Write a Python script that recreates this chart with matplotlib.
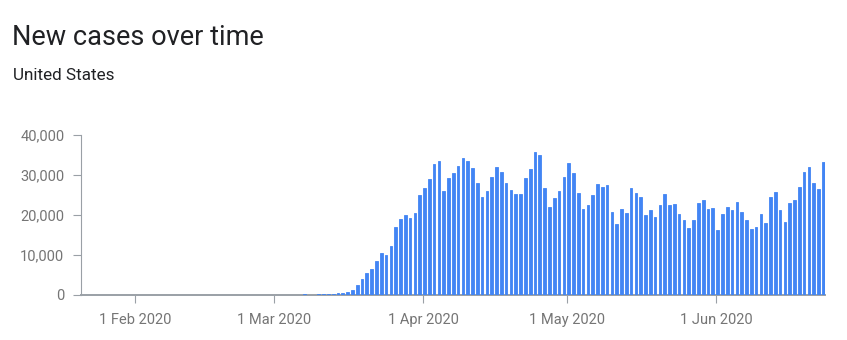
import matplotlib
matplotlib.use("Agg")
import matplotlib.pyplot as plt
import matplotlib.dates as mdates
from matplotlib.ticker import FuncFormatter
import pandas as pd

plt.rcParams['font.family'] = ['Roboto', 'DejaVu Sans']

title = "New cases over time"
subtitle = "United States"
start_date = "2020-01-21"

jan = [1, 0, 0, 1, 1, 3, 0, 0, 0, 1, 1]
feb = [1, 2, 0, 0, 1] + [0] * 14 + [1, 0, 0, 0, 0, 0, 1, 0, 5, 8]
mar = [10, 20, 25, 35, 70, 60, 140, 110, 90, 190, 200, 280, 320, 580, 600, 650,
       1350, 2400, 3900, 5500, 6400, 8600, 10400, 9900, 12300, 17100, 18900,
       20100, 19250, 20400, 25100]
apr = [26700, 28900, 32700, 33600, 25900, 29200, 30600, 32300, 34200, 33600,
       31700, 28000, 24500, 26100, 29500, 32000, 30800, 28000, 26200, 25200,
       25200, 29300, 31400, 35800, 34900, 26800, 22100, 24300, 25900, 29600]
may = [33000, 30600, 25600, 21500, 22400, 24900, 27700, 27100, 27400, 20800,
       17700, 21500, 20500, 26800, 25600, 24600, 19900, 21200, 19600, 22400,
       25200, 22400, 22700, 20200, 18700, 16800, 18700, 23000, 23700, 21400, 21800]
jun = [16200, 20200, 22100, 21200, 23300, 20800, 18700, 16400, 17100, 20200,
       18000, 24600, 25800, 21200, 18300, 23000, 23700, 27100, 30800, 32100,
       28000, 26400, 33300]
new_cases = jan + feb + mar + apr + may + jun

tick_dates = ["2020-02-01", "2020-03-01", "2020-04-01", "2020-05-01", "2020-06-01"]
tick_labels = ["1 Feb 2020", "1 Mar 2020", "1 Apr 2020", "1 May 2020", "1 Jun 2020"]
y_ticks = [0, 10000, 20000, 30000, 40000]

dates = pd.date_range(start_date, periods=len(new_cases), freq="D")
xnum = mdates.date2num(dates.to_pydatetime()) + 0.25

fig = plt.figure(figsize=(8.47, 3.40), dpi=100)
ax = fig.add_axes([81 / 847, 45 / 340, 744 / 847, 160 / 340])

blue = "#4285F4"
edges = [blue if v > 0 else "none" for v in new_cases]
ax.bar(xnum, new_cases, width=0.55, color=blue, edgecolor=edges, linewidth=0.6,
       zorder=3)

x0 = mdates.date2num(dates[0].to_pydatetime()) - 0.23
x1 = mdates.date2num(dates[-1].to_pydatetime()) + 0.6
ax.set_xlim(x0, x1)
ax.set_ylim(0, 40000)

ax.set_yticks(y_ticks)
ax.yaxis.set_major_formatter(FuncFormatter(lambda v, p: f"{v:,.0f}"))
ax.set_xticks([mdates.date2num(pd.Timestamp(d).to_pydatetime()) for d in tick_dates])
ax.set_xticklabels(tick_labels)

grey = "#9AA0A6"
for s in ["top", "right"]:
    ax.spines[s].set_visible(False)
ax.spines["left"].set_color(grey)
ax.spines["left"].set_linewidth(0.8)
ax.spines["bottom"].set_color(grey)
ax.spines["bottom"].set_linewidth(1.4)
ax.tick_params(axis="both", colors=grey, labelcolor="#757575", labelsize=10.5,
               length=6, width=0.8)
ax.tick_params(axis="x", pad=7)
ax.tick_params(axis="y", pad=6)

fig.text(12 / 847, 1 - 45 / 340, title, fontsize=19.5, color="#202124",
         va="baseline", ha="left")
fig.text(13 / 847, 1 - 80 / 340, subtitle, fontsize=12.3, color="#202124",
         va="baseline", ha="left")

fig.savefig("out.png", dpi=100)
